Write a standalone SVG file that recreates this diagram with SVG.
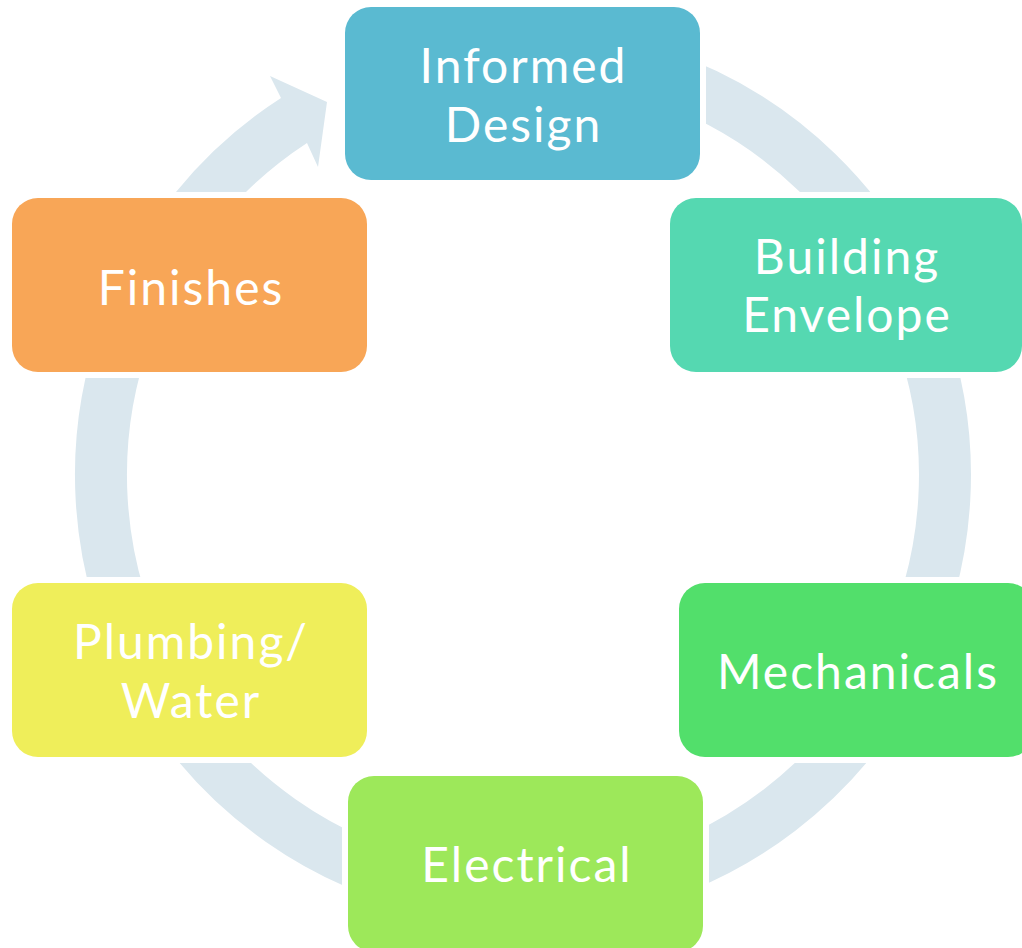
<svg xmlns="http://www.w3.org/2000/svg" width="1022" height="948" viewBox="0 0 1022 948">
<style>
.box{stroke:none}
.lbl{font-family:Lato,"Open Sans","Liberation Sans",sans-serif;font-size:48px;letter-spacing:2px;fill:#ffffff;text-anchor:middle}
.ring{fill:none;stroke:#DAE7EE;stroke-width:52}
</style>
<defs>
<mask id="gaps" maskUnits="userSpaceOnUse" x="0" y="0" width="1022" height="948">
<rect x="0" y="0" width="1022" height="948" fill="#fff"/>
<rect x="339" y="1" width="367" height="185" rx="30" fill="#000"/>
<rect x="664" y="192" width="370" height="186" rx="30" fill="#000"/>
<rect x="673" y="577" width="370" height="186" rx="30" fill="#000"/>
<rect x="342" y="770" width="367" height="190" rx="30" fill="#000"/>
<rect x="6" y="577" width="367" height="186" rx="30" fill="#000"/>
<rect x="6" y="192" width="367" height="186" rx="30" fill="#000"/>
</mask>
</defs>
<g id="connectors">
<path class="ring" mask="url(#gaps)" d="M486.2,54.6 A422,422 0 1 1 126.4,330.7"/>
<path fill="#DAE7EE" d="M176,192 A448,448 0 0 1 281,98 L270,76 L327,102 L318,167 L307,143 A396,396 0 0 0 246,192 Z"/>
</g>
<g id="informed-design">
<rect class="box" x="345" y="7" width="355" height="173" rx="26" fill="#5ABAD1"/>
<text class="lbl" x="523.5" y="83">Informed</text>
<text class="lbl" x="523.5" y="142">Design</text>
</g>
<g id="building-envelope">
<rect class="box" x="670" y="198" width="352" height="174" rx="26" fill="#55D8B1"/>
<text class="lbl" x="847" y="274">Building</text>
<text class="lbl" x="847" y="332">Envelope</text>
</g>
<g id="mechanicals">
<rect class="box" x="679" y="583" width="355" height="174" rx="26" fill="#52DF6B"/>
<text class="lbl" x="858" y="689">Mechanicals</text>
</g>
<g id="electrical">
<rect class="box" x="348" y="776" width="355" height="176" rx="26" fill="#9DE85A"/>
<text class="lbl" x="527" y="882">Electrical</text>
</g>
<g id="plumbing-water">
<rect class="box" x="12" y="583" width="355" height="174" rx="26" fill="#EFEE5A"/>
<text class="lbl" x="191" y="659">Plumbing/</text>
<text class="lbl" x="191" y="718">Water</text>
</g>
<g id="finishes">
<rect class="box" x="12" y="198" width="355" height="174" rx="26" fill="#F8A657"/>
<text class="lbl" x="191" y="305">Finishes</text>
</g>
</svg>
